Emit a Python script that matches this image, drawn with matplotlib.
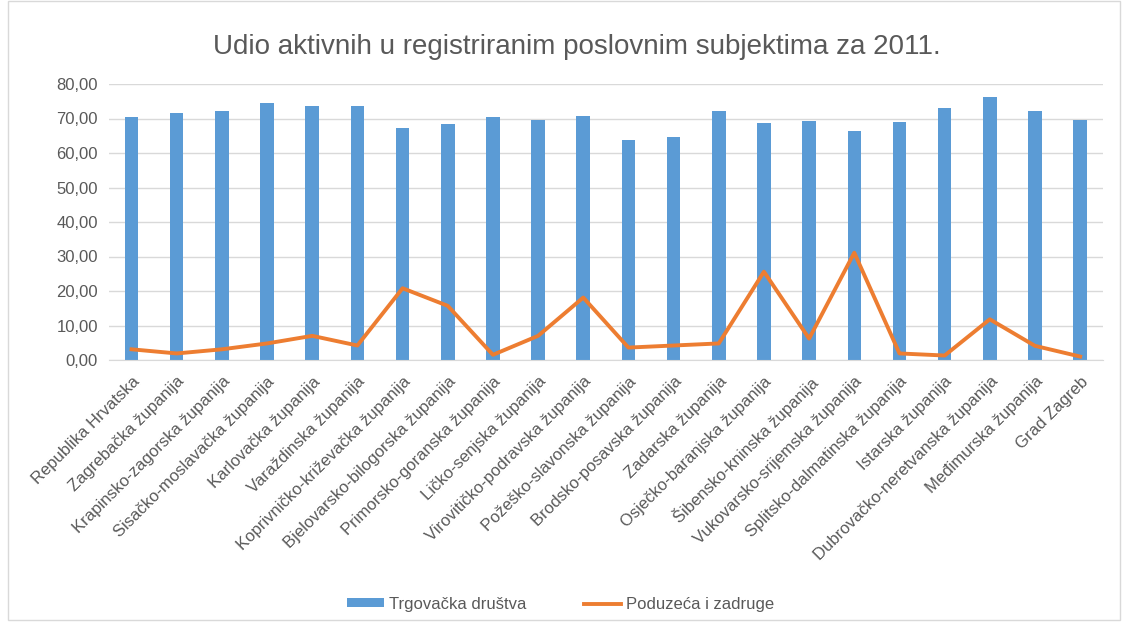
import numpy as np
import matplotlib.pyplot as plt
from matplotlib.ticker import FuncFormatter
from matplotlib.patches import Rectangle

plt.rcParams['font.family'] = ['Liberation Sans', 'DejaVu Sans']

# zupanije
kategorije = ['Republika Hrvatska', 'Zagrebačka županija', 'Krapinsko-zagorska županija',
              'Sisačko-moslavačka županija', 'Karlovačka županija', 'Varaždinska županija',
              'Koprivničko-križevačka županija', 'Bjelovarsko-bilogorska županija',
              'Primorsko-goranska županija', 'Ličko-senjska županija',
              'Virovitičko-podravska županija', 'Požeško-slavonska županija',
              'Brodsko-posavska županija', 'Zadarska županija', 'Osječko-baranjska županija',
              'Šibensko-kninska županija', 'Vukovarsko-srijemska županija',
              'Splitsko-dalmatinska županija', 'Istarska županija',
              'Dubrovačko-neretvanska županija', 'Međimurska županija', 'Grad Zagreb']

trgovacka = [70.3, 71.5, 72.1, 74.6, 73.5, 73.5, 67.3, 68.5, 70.4, 69.6, 70.7,
             63.8, 64.5, 72.1, 68.8, 69.3, 66.3, 69.1, 72.9, 76.2, 72.1, 69.6]
poduzeca = [3.1, 1.9, 3.1, 4.8, 7.0, 4.2, 20.8, 15.7, 1.5, 7.0, 18.1,
            3.6, 4.2, 4.8, 25.6, 6.2, 31.1, 1.9, 1.3, 11.8, 4.1, 1.0]

siva = '#595959'

fig = plt.figure(figsize=(11.28, 6.25), dpi=100)
ax = fig.add_axes([0.0966, 0.424, 0.881, 0.4416])

x = np.arange(len(kategorije))
stupci = ax.bar(x, trgovacka, width=0.3, color='#5b9bd5', label='Trgovačka društva', zorder=2)
linija, = ax.plot(x, poduzeca, color='#ed7d31', lw=2.8, label='Poduzeća i zadruge', zorder=3)

ax.set_xlim(-0.5, len(kategorije) - 0.5)
ax.set_ylim(0, 80)
ax.set_yticks(np.arange(0, 81, 10))
ax.yaxis.set_major_formatter(FuncFormatter(lambda v, p: f'{v:.2f}'.replace('.', ',')))
ax.grid(axis='y', color='#d9d9d9', lw=1, zorder=0)
for s in ['top', 'right', 'left']:
    ax.spines[s].set_visible(False)
ax.spines['bottom'].set_color('#d9d9d9')
ax.tick_params(axis='both', length=0, colors=siva, labelsize=12)
ax.tick_params(axis='y', pad=8)
ax.tick_params(axis='x', pad=10)
ax.set_xticks(x)
ax.set_xticklabels(kategorije, rotation=45, ha='right', rotation_mode='anchor')

fig.text(0.511, 0.924, 'Udio aktivnih u registriranim poslovnim subjektima za 2011.',
         ha='center', va='center', fontsize=20, color=siva)

fig.legend([stupci, linija], ['Trgovačka društva', 'Poduzeća i zadruge'],
           loc='center', bbox_to_anchor=(0.497, 0.033), ncol=2, frameon=False,
           fontsize=12, labelcolor=siva, handlelength=2.2, handleheight=0.45,
           handletextpad=0.3, columnspacing=3.5)

fig.patches.append(Rectangle((0.007, 0.008), 0.986, 0.99, transform=fig.transFigure,
                             fill=False, edgecolor='#d9d9d9', lw=1))

plt.savefig('out.png', dpi=100)
